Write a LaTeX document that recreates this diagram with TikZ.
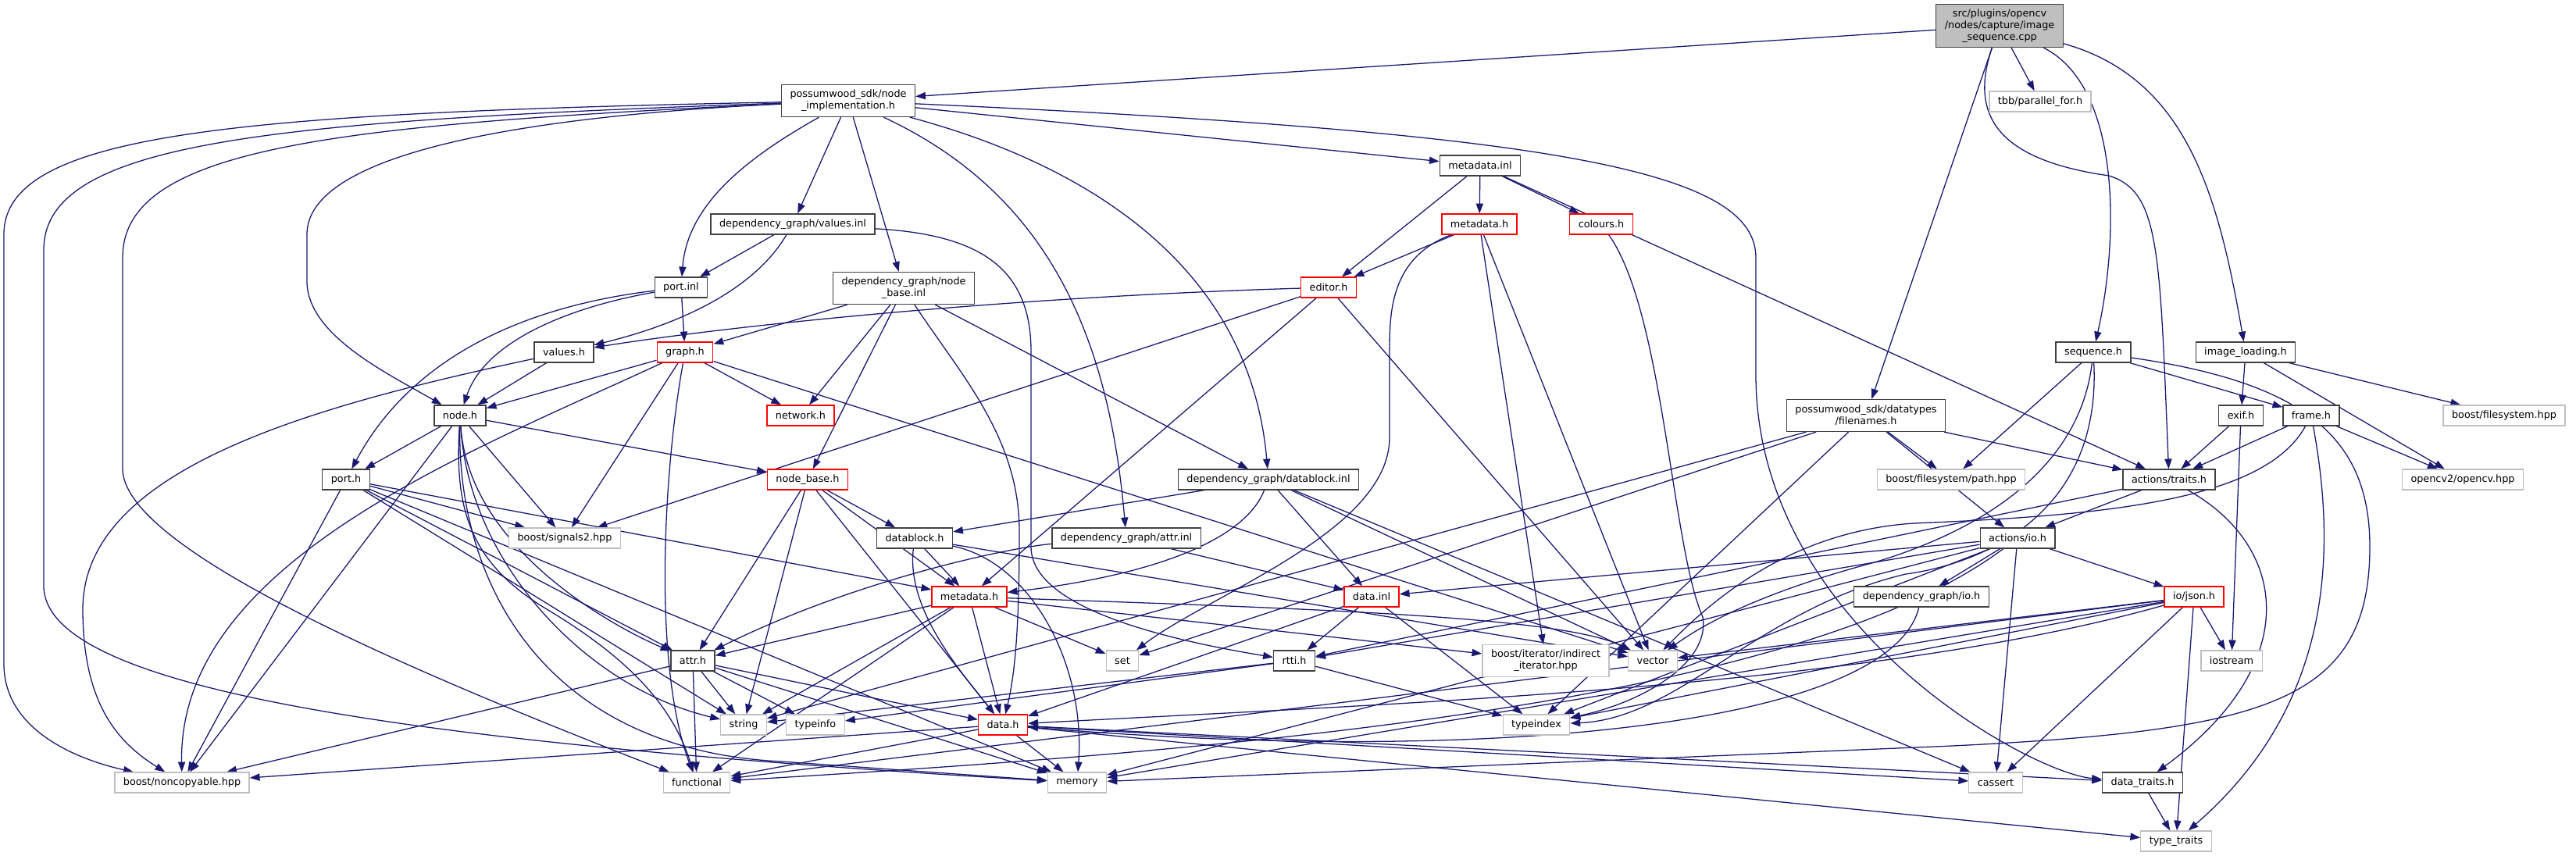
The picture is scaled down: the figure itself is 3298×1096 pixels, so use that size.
\documentclass[tikz,border=0pt]{standalone}
\usepackage{fontspec}
\setmainfont{DejaVu Sans}
\usetikzlibrary{arrows.meta,backgrounds}

\definecolor{edgeblue}{RGB}{25,25,112}
\definecolor{grey25}{RGB}{64,64,64}
\definecolor{grey75}{RGB}{191,191,191}

\tikzset{
  hbox/.style={rectangle, draw=grey25, line width=0.64pt, fill=white,
    inner xsep=5.5pt, inner ysep=0pt, minimum height=13pt, align=center,
    font=\fontsize{6.4}{7.4}\selectfont},
  hred/.style={hbox, draw=red},
  hsys/.style={hbox, draw=grey75},
  hroot/.style={hbox, fill=grey75},
  twoline/.style={minimum height=20.5pt},
  threeline/.style={minimum height=27.5pt},
  inc/.style={draw=edgeblue, line width=0.64pt, -{Triangle[length=6.4pt,width=4.6pt]}},
}

\begin{document}
\begin{tikzpicture}[x=0.5pt, y=-0.5pt]
  \useasboundingbox (0,0) rectangle (3298,1096);
  % The source file and what it includes first.
  \node[hroot, threeline] (root) at (2560,33) {src/plugins/opencv\\/nodes/capture/image\\\_sequence.cpp};
  \node[hbox, twoline] (nimpl) at (1086,129) {possumwood\_sdk/node\\\_implementation.h};
  \node[hsys] (tbb) at (2612,130) {tbb/parallel\_for.h};
  \node[hbox] (minl) at (1895,212) {metadata.inl};
  \node[hbox] (valinl) at (1015,287) {dependency\_graph/values.inl};
  \node[hred] (mdtop) at (1894,287) {metadata.h};
  \node[hred] (colours) at (2050,287) {colours.h};
  \node[hbox] (portinl) at (872,368) {port.inl};
  \node[hbox, twoline] (nbinl) at (1157,369) {dependency\_graph/node\\\_base.inl};
  \node[hred] (editor) at (1701,368) {editor.h};
  % Middle rows.
  \node[hbox] (valh) at (722,451) {values.h};
  \node[hred] (graph) at (877,451) {graph.h};
  \node[hbox] (seq) at (2680,451) {sequence.h};
  \node[hbox] (imgload) at (2875,451) {image\_loading.h};
  \node[hbox] (nodeh) at (589,532) {node.h};
  \node[hred] (network) at (1025,532) {network.h};
  \node[hbox, twoline] (fnames) at (2389,532) {possumwood\_sdk/datatypes\\/filenames.h};
  \node[hbox] (exif) at (2869,532) {exif.h};
  \node[hbox] (frame) at (2959,532) {frame.h};
  \node[hsys] (bfs) at (3206,532) {boost/filesystem.hpp};
  \node[hbox] (porth) at (443,614) {port.h};
  \node[hred] (nbase) at (1034,614) {node\_base.h};
  \node[hbox] (dbinl) at (1624,614) {dependency\_graph/datablock.inl};
  \node[hsys] (path) at (2498,614) {boost/filesystem/path.hpp};
  \node[hbox] (traits) at (2777,614) {actions/traits.h};
  \node[hsys] (opencv) at (3153,614) {opencv2/opencv.hpp};
  \node[hsys] (signals) at (723,689) {boost/signals2.hpp};
  \node[hbox] (dbh) at (1171,689) {datablock.h};
  \node[hbox] (attrinl) at (1442,689) {dependency\_graph/attr.inl};
  \node[hbox] (io) at (2583,689) {actions/io.h};
  \node[hred] (md) at (1241,764) {metadata.h};
  \node[hred] (datainl) at (1756,764) {data.inl};
  \node[hbox] (dgio) at (2460,764) {dependency\_graph/io.h};
  \node[hred] (json) at (2809,764) {io/json.h};
  % Lower rows.
  \node[hbox] (attr) at (887,846) {attr.h};
  \node[hsys] (set) at (1437,846) {set};
  \node[hbox] (rtti) at (1657,846) {rtti.h};
  \node[hsys, twoline] (indit) at (1979,846) {boost/iterator/indirect\\\_iterator.hpp};
  \node[hsys] (vector) at (2116,846) {vector};
  \node[hsys] (iostream) at (2857,846) {iostream};
  \node[hsys] (string) at (952,928) {string};
  \node[hsys] (typeinfo) at (1044,928) {typeinfo};
  \node[hred] (data) at (1284,928) {data.h};
  \node[hsys] (typeindex) at (1967,928) {typeindex};
  \node[hsys] (noncopy) at (233,1002) {boost/noncopyable.hpp};
  \node[hsys] (functional) at (892,1002) {functional};
  \node[hsys] (memory) at (1379,1002) {memory};
  \node[hsys] (cassert) at (2555,1002) {cassert};
  \node[hbox] (dtraits) at (2743,1002) {data\_traits.h};
  \node[hsys] (ttraits) at (2786,1077) {type\_traits};

  \begin{scope}[on background layer]
    % Straight includes.
    \foreach \src/\dst in {root/nimpl, root/tbb, root/fnames,
        nimpl/valinl, nimpl/nbinl, nimpl/minl,
        minl/mdtop, minl/colours, minl/editor, minl/traits,
        valinl/portinl,
        mdtop/editor, mdtop/indit, mdtop/vector,
        portinl/graph,
        nbinl/graph, nbinl/network, nbinl/nbase, nbinl/dbinl,
        editor/signals, editor/md, editor/vector,
        valh/nodeh,
        graph/nodeh, graph/network, graph/signals, graph/vector,
        seq/path, seq/frame,
        imgload/exif, imgload/bfs, imgload/opencv,
        fnames/path, fnames/traits, fnames/io, fnames/set, fnames/string, fnames/typeindex,
        exif/traits, exif/iostream,
        frame/traits, frame/opencv,
        nodeh/porth, nodeh/signals, nodeh/nbase, nodeh/noncopy,
        porth/signals, porth/noncopy, porth/attr, porth/string, porth/memory, porth/md,
        nbase/dbh, nbase/md, nbase/attr, nbase/string, nbase/data,
        dbinl/dbh, dbinl/datainl, dbinl/vector, dbinl/cassert,
        dbh/md, dbh/vector,
        attrinl/datainl,
        traits/io, traits/rtti,
        io/datainl, io/rtti, io/dgio, io/json, io/typeindex, io/memory, io/cassert,
        md/attr, md/string, md/functional, md/data, md/set, md/indit,
        datainl/rtti, datainl/data, datainl/typeindex,
        json/iostream, json/ttraits, json/cassert, json/memory, json/functional,
        json/vector, json/typeindex,
        attr/string, attr/typeinfo, attr/data, attr/noncopy, attr/functional, attr/memory,
        rtti/string, rtti/typeinfo, rtti/typeindex,
        data/noncopy, data/functional, data/memory, data/cassert, data/dtraits, data/ttraits,
        dtraits/ttraits}
      \draw[inc] (\src) -- (\dst);
    % Curved includes, top part.
    \draw[inc] (root) .. controls (2520,150) and (2560,205) .. (2700,225)
      .. controls (2765,245) and (2765,320) .. (traits);
    \draw[inc] (root) .. controls (2714,110) and (2714,300) .. (seq);
    \draw[inc] (root) .. controls (2800,100) and (2840,250) .. (imgload);
    \draw[inc] (nimpl) .. controls (960,200) and (880,260) .. (portinl);
    \draw[inc] (nimpl) to[out=-25,in=95] (attrinl);
    \draw[inc] (nimpl) to[out=-15,in=95] (dbinl);
    \draw[inc] (nimpl) .. controls (2000,170) and (2248,220) .. (2248,330)
      -- (2248,480) .. controls (2248,800) and (2600,990) .. (dtraits);
    \draw[inc] (valinl) .. controls (960,380) and (850,420) .. (valh);
    \draw[inc] (valinl) .. controls (1250,300) and (1320,340) .. (1320,450)
      -- (1320,700) .. controls (1320,780) and (1500,820) .. (rtti);
    \draw[inc] (nbinl) .. controls (1230,480) and (1305,560) .. (1305,680)
      .. controls (1305,800) and (1300,860) .. (data);
    \draw[inc] (editor) .. controls (1300,380) and (950,415) .. (valh);
    \draw[inc] (portinl) .. controls (720,395) and (620,440) .. (nodeh);
    \draw[inc] (portinl) .. controls (650,395) and (520,470) .. (porth);
    \draw[inc] (mdtop) .. controls (1780,330) and (1779,400) .. (1779,450)
      -- (1779,560) .. controls (1779,680) and (1550,760) .. (set);
    \draw[inc] (colours) .. controls (2130,400) and (2140,700) .. (2180,790)
      .. controls (2190,850) and (2100,900) .. (typeindex);
    % Curved includes, lower part.
    \draw[inc] (valh) .. controls (400,520) and (106,600) .. (106,780)
      .. controls (106,900) and (150,950) .. (noncopy);
    \draw[inc] (graph) .. controls (600,580) and (228,720) .. (noncopy);
    \draw[inc] (graph) .. controls (850,600) and (835,850) .. (functional);
    \draw[inc] (nodeh) .. controls (600,700) and (780,800) .. (attr);
    \draw[inc] (nodeh) .. controls (600,720) and (750,880) .. (string);
    \draw[inc] (nodeh) .. controls (582,650) and (600,720) .. (700,780)
      .. controls (800,840) and (860,900) .. (functional);
    \draw[inc] (nodeh) .. controls (585,750) and (700,960) .. (1000,975) -- (memory);
    \draw[inc] (dbinl) .. controls (1590,700) and (1450,740) .. (md);
    \draw[inc] (dbh) .. controls (1160,780) and (1230,860) .. (data);
    \draw[inc] (dbh) .. controls (1320,720) and (1390,850) .. (memory);
    \draw[inc] (attrinl) .. controls (1300,700) and (1100,740) .. (attr);
    \draw[inc] (md) .. controls (1700,780) and (2000,790) .. (vector);
    \draw[inc] (seq) .. controls (2660,620) and (2500,690) .. (2400,720)
      .. controls (2250,760) and (2180,800) .. (vector);
    \draw[inc] (seq) .. controls (2690,650) and (2550,720) .. (2440,735)
      .. controls (2250,780) and (2150,920) .. (typeindex);
    \draw[inc] (seq) .. controls (2950,490) and (3034,560) .. (3034,700)
      .. controls (3034,900) and (2900,935) .. (2500,955) -- (memory);
    \draw[inc] (frame) .. controls (2900,640) and (2700,660) .. (2450,670)
      .. controls (2300,680) and (2200,760) .. (vector);
    \draw[inc] (frame) .. controls (2990,700) and (2990,900) .. (ttraits);
    \draw[inc] (traits) .. controls (2930,700) and (2950,850) .. (dtraits);
    \draw[inc] (io) .. controls (2300,900) and (1600,960) .. (functional);
    \draw[inc] (json) .. controls (2400,880) and (1800,900) .. (data);
    \draw[inc] (dgio) .. controls (2420,930) and (1900,980) .. (data);
    % Long ones round the left side.
    \draw[inc] (nimpl) .. controls (300,145) and (5,170) .. (5,300)
      -- (5,850) .. controls (5,940) and (110,975) .. (noncopy);
    \draw[inc] (nimpl) .. controls (350,155) and (56,180) .. (56,320)
      -- (56,750) .. controls (56,880) and (500,950) .. (memory);
    \draw[inc] (nimpl) .. controls (420,160) and (157,190) .. (157,330)
      -- (157,600) .. controls (157,700) and (500,850) .. (functional);
    \draw[inc] (nimpl) .. controls (650,150) and (393,200) .. (393,300)
      -- (393,360) .. controls (393,430) and (500,480) .. (nodeh);
  \end{scope}
\end{tikzpicture}
\end{document}
